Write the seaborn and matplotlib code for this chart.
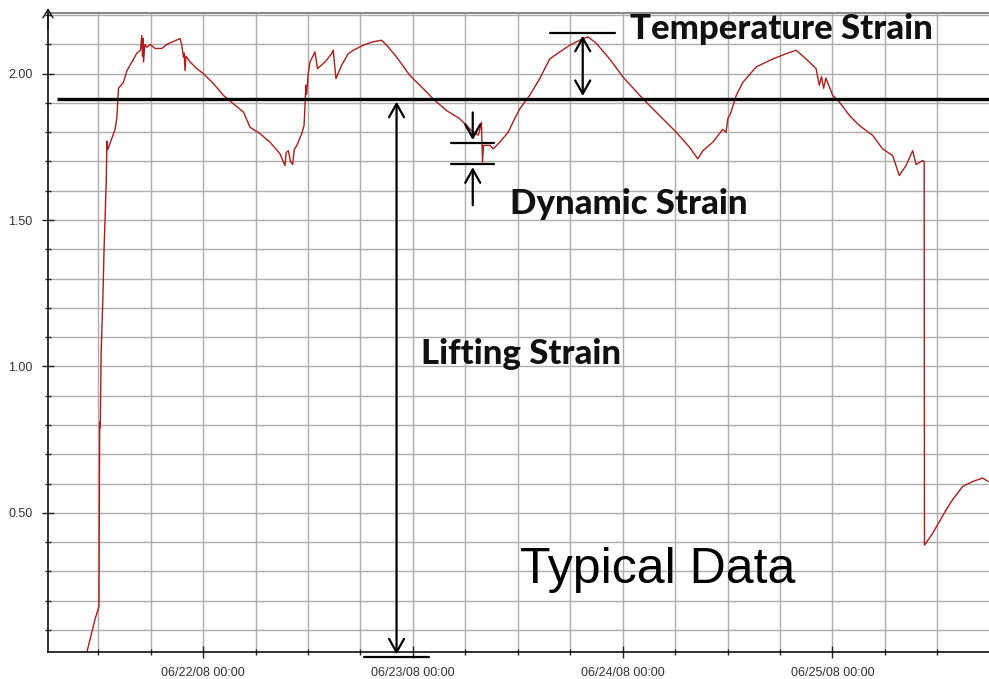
import matplotlib
matplotlib.use("Agg")
import matplotlib.pyplot as plt
import matplotlib.dates as mdates
from matplotlib.ticker import MultipleLocator, FormatStrFormatter
import pandas as pd
import seaborn as sns

# Strain gauge record, 21-25 June 2008
timestamps = [
    "2008-06-21 10:30", "2008-06-21 11:10", "2008-06-21 11:40", "2008-06-21 12:05",
    "2008-06-21 12:08", "2008-06-21 12:10", "2008-06-21 12:14", "2008-06-21 12:20",
    "2008-06-21 12:32", "2008-06-21 12:40", "2008-06-21 12:55", "2008-06-21 13:00",
    "2008-06-21 13:05", "2008-06-21 13:34", "2008-06-21 13:56", "2008-06-21 14:08",
    "2008-06-21 14:19", "2008-06-21 14:53", "2008-06-21 15:17", "2008-06-21 15:51",
    "2008-06-21 16:25", "2008-06-21 16:50", "2008-06-21 16:59", "2008-06-21 17:04",
    "2008-06-21 17:08", "2008-06-21 17:11", "2008-06-21 17:20", "2008-06-21 17:34",
    "2008-06-21 17:56", "2008-06-21 18:31", "2008-06-21 19:17", "2008-06-21 19:51",
    "2008-06-21 20:37", "2008-06-21 21:22", "2008-06-21 21:34", "2008-06-21 21:45",
    "2008-06-21 21:50", "2008-06-21 21:56", "2008-06-21 22:02", "2008-06-21 22:31",
    "2008-06-21 23:17", "2008-06-22 00:02", "2008-06-22 01:11", "2008-06-22 02:19",
    "2008-06-22 03:28", "2008-06-22 04:37", "2008-06-22 05:22", "2008-06-22 06:31",
    "2008-06-22 07:39", "2008-06-22 08:48", "2008-06-22 09:22", "2008-06-22 09:30",
    "2008-06-22 09:45", "2008-06-22 10:00", "2008-06-22 10:15", "2008-06-22 10:25",
    "2008-06-22 10:43", "2008-06-22 11:17", "2008-06-22 11:33", "2008-06-22 11:40",
    "2008-06-22 11:46", "2008-06-22 11:50", "2008-06-22 12:02", "2008-06-22 12:14",
    "2008-06-22 12:48", "2008-06-22 13:05", "2008-06-22 13:57", "2008-06-22 14:42",
    "2008-06-22 14:53", "2008-06-22 15:12", "2008-06-22 15:51", "2008-06-22 16:36",
    "2008-06-22 17:11", "2008-06-22 18:19", "2008-06-22 19:28", "2008-06-22 20:25",
    "2008-06-22 21:00", "2008-06-22 22:08", "2008-06-22 23:39", "2008-06-23 01:11",
    "2008-06-23 02:19", "2008-06-23 03:51", "2008-06-23 05:22", "2008-06-23 06:42",
    "2008-06-23 07:30", "2008-06-23 07:51", "2008-06-23 07:58", "2008-06-23 08:05",
    "2008-06-23 08:50", "2008-06-23 09:11", "2008-06-23 09:57", "2008-06-23 10:54",
    "2008-06-23 11:39", "2008-06-23 12:14", "2008-06-23 13:22", "2008-06-23 14:31",
    "2008-06-23 15:39", "2008-06-23 16:48", "2008-06-23 17:57", "2008-06-23 19:05",
    "2008-06-23 20:02", "2008-06-23 21:00", "2008-06-23 22:31", "2008-06-24 00:02",
    "2008-06-24 02:19", "2008-06-24 04:14", "2008-06-24 06:08", "2008-06-24 07:39",
    "2008-06-24 08:36", "2008-06-24 09:11", "2008-06-24 10:19", "2008-06-24 11:28",
    "2008-06-24 11:50", "2008-06-24 12:02", "2008-06-24 12:20", "2008-06-24 13:00",
    "2008-06-24 13:45", "2008-06-24 15:17", "2008-06-24 17:11", "2008-06-24 18:42",
    "2008-06-24 19:51", "2008-06-24 21:00", "2008-06-24 22:08", "2008-06-24 22:30",
    "2008-06-24 22:45", "2008-06-24 23:00", "2008-06-24 23:15", "2008-06-25 00:02",
    "2008-06-25 00:48", "2008-06-25 01:57", "2008-06-25 03:05", "2008-06-25 04:37",
    "2008-06-25 05:45", "2008-06-25 06:54", "2008-06-25 07:39", "2008-06-25 08:25",
    "2008-06-25 09:11", "2008-06-25 09:34", "2008-06-25 10:19", "2008-06-25 10:30",
    "2008-06-25 10:32", "2008-06-25 11:28", "2008-06-25 13:00", "2008-06-25 13:45",
    "2008-06-25 14:54", "2008-06-25 16:02", "2008-06-25 17:11", "2008-06-25 17:50",
]
strain = [
    0.00, 0.08, 0.14, 0.18,
    0.60, 0.81, 0.79, 1.05,
    1.23, 1.40, 1.63, 1.77,
    1.74, 1.78, 1.81, 1.85,
    1.95, 1.97, 2.01, 2.04,
    2.07, 2.08, 2.13, 2.06,
    2.12, 2.04, 2.10, 2.09,
    2.10, 2.086, 2.086, 2.10,
    2.11, 2.12, 2.097, 2.057,
    2.07, 2.01, 2.06, 2.04,
    2.017, 2.00, 1.966, 1.926,
    1.897, 1.869, 1.817, 1.795,
    1.766, 1.726, 1.686, 1.73,
    1.737, 1.70, 1.69, 1.74,
    1.755, 1.795, 1.823, 1.90,
    1.96, 1.93, 2.00, 2.04,
    2.074, 2.017, 2.04, 2.068,
    2.08, 1.983, 2.029, 2.068,
    2.08, 2.097, 2.109, 2.114,
    2.097, 2.057, 1.994, 1.949,
    1.914, 1.874, 1.846, 1.806,
    1.79, 1.834, 1.698, 1.755,
    1.755, 1.743, 1.766, 1.80,
    1.846, 1.88, 1.926, 1.983,
    2.05, 2.074, 2.097, 2.114,
    2.126, 2.103, 2.05, 1.989,
    1.914, 1.857, 1.80, 1.749,
    1.709, 1.737, 1.766, 1.81,
    1.80, 1.846, 1.863, 1.926,
    1.97, 2.023, 2.05, 2.068,
    2.08, 2.05, 2.017, 1.96,
    1.99, 1.95, 1.985, 1.926,
    1.903, 1.857, 1.823, 1.789,
    1.743, 1.72, 1.652, 1.686,
    1.737, 1.69, 1.703, 1.70,
    0.39, 0.43, 0.51, 0.545,
    0.59, 0.607, 0.619, 0.607,
]

reference_level = 1.914
x_start, x_end = "2008-06-21 06:15", "2008-06-25 17:55"

df = pd.DataFrame({"time": pd.to_datetime(timestamps), "strain": strain})

sns.set_theme(style="white")
plt.rcParams["font.family"] = ["Liberation Sans", "DejaVu Sans"]

fig = plt.figure(figsize=(9.89, 6.79), dpi=100)
ax = fig.add_axes([0.0485, 0.0398, 0.9515, 0.941])

sns.lineplot(data=df, x="time", y="strain", ax=ax, sort=False, estimator=None,
             color="#b01c1c", linewidth=1.0)

ax.set_xlim(pd.Timestamp(x_start), pd.Timestamp(x_end))
ax.set_ylim(0.025, 2.207)
ax.set_xlabel("")
ax.set_ylabel("")

# axes, ticks and grid
ax.xaxis.set_major_locator(mdates.DayLocator())
ax.xaxis.set_minor_locator(mdates.HourLocator(byhour=[0, 6, 12, 18]))
ax.xaxis.set_major_formatter(mdates.DateFormatter("%m/%d/%y %H:%M"))
ax.yaxis.set_major_locator(MultipleLocator(0.5))
ax.yaxis.set_minor_locator(MultipleLocator(0.1))
ax.yaxis.set_major_formatter(FormatStrFormatter("%.2f"))
ax.grid(which="both", color="#adadad", linewidth=1.0)
ax.set_axisbelow(True)
ax.tick_params(axis="both", which="major", direction="inout", length=8, width=1,
               color="#222222", labelsize=9, labelcolor="#333333",
               bottom=True, left=True)
ax.tick_params(axis="both", which="minor", direction="inout", length=5, width=1,
               color="#222222", bottom=True, left=True)
ax.tick_params(axis="x", which="major", pad=7)
ax.tick_params(axis="y", which="major", pad=7)
for side in ("left", "bottom"):
    ax.spines[side].set_color("#111111")
    ax.spines[side].set_linewidth(1.2)
ax.spines["top"].set_color("#8a8a8a")
ax.spines["top"].set_linewidth(1.5)
ax.spines["right"].set_visible(False)

# arrowhead on top of the value axis
ax.annotate("", xy=(0, 1.012), xytext=(0, 0.97), xycoords="axes fraction",
            arrowprops=dict(arrowstyle="->,head_length=0.5,head_width=0.3",
                            lw=1.0, color="#111111"), annotation_clip=False)

def tx(ts):
    return mdates.date2num(pd.Timestamp(ts))

label_font = dict(fontsize=25, fontweight="black", family=["Lato", "DejaVu Sans"],
                  va="center", ha="left", color="#111111")

# reference level of the lifted load
ax.plot([tx("2008-06-21 07:19"), tx(x_end)], [reference_level, reference_level],
        color="black", linewidth=2.4, solid_capstyle="butt", zorder=4)

dim = dict(color="black", lw=1.6)
both = dict(arrowstyle="<->,head_length=0.8,head_width=0.45", **dim)
one = dict(arrowstyle="->,head_length=0.8,head_width=0.45", **dim)

# lifting strain
lift_x = tx("2008-06-22 22:08")
ax.annotate("", xy=(lift_x, reference_level), xytext=(lift_x, 0.007),
            arrowprops=both, annotation_clip=False)
ax.plot([tx("2008-06-22 18:24"), tx("2008-06-23 01:50")], [0.007, 0.007],
        clip_on=False, **dim)
ax.text(tx("2008-06-23 00:55"), 1.041, "Lifting Strain", **label_font)

# temperature strain
temp_top = 2.139
ax.plot([tx("2008-06-23 15:39"), tx("2008-06-23 23:05")], [temp_top, temp_top], **dim)
temp_x = tx("2008-06-23 19:26")
ax.annotate("", xy=(temp_x, temp_top), xytext=(temp_x, reference_level),
            arrowprops=both)
ax.text(tx("2008-06-24 00:48"), 2.154, "Temperature Strain", **label_font)

# dynamic strain
dyn_hi, dyn_lo = 1.764, 1.690
for level in (dyn_hi, dyn_lo):
    ax.plot([tx("2008-06-23 04:21"), tx("2008-06-23 09:15")], [level, level], **dim)
dyn_x = tx("2008-06-23 06:51")
ax.annotate("", xy=(dyn_x, dyn_hi), xytext=(dyn_x, 1.877), arrowprops=one)
ax.annotate("", xy=(dyn_x, dyn_lo), xytext=(dyn_x, 1.541), arrowprops=one)
ax.text(tx("2008-06-23 11:05"), 1.555, "Dynamic Strain", **label_font)

ax.text(tx("2008-06-23 12:14"), 0.260, "Typical Data", fontsize=36,
        family=["Liberation Sans", "DejaVu Sans"], va="baseline", ha="left",
        color="black")

fig.savefig("out.png", dpi=100)
